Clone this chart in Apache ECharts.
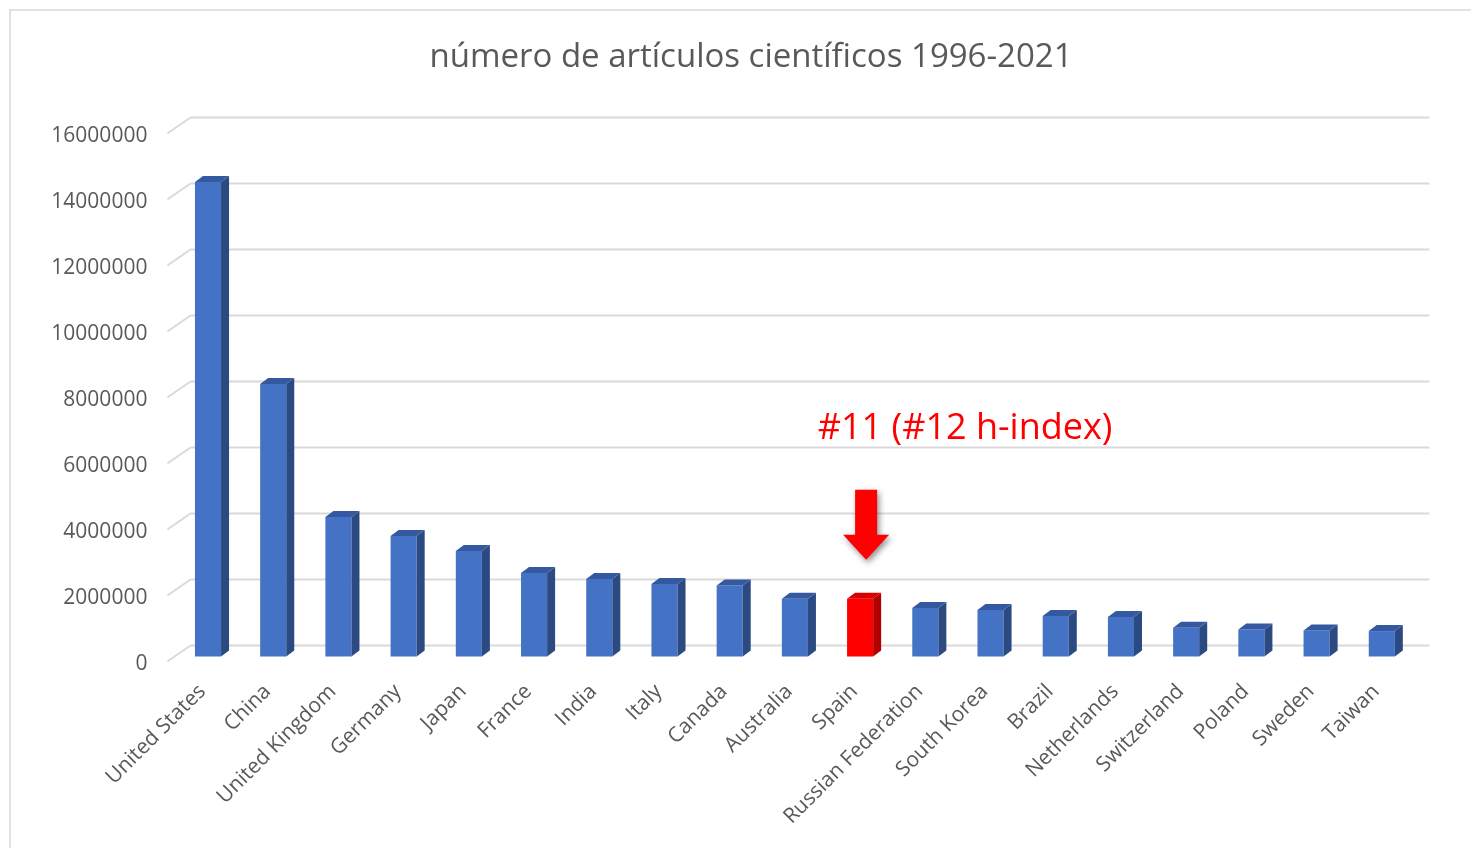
<!DOCTYPE html>
<html>
<head>
<meta charset="utf-8">
<script src="https://cdn.jsdelivr.net/npm/echarts@6/dist/echarts.min.js"></script>
<style>html,body{margin:0;padding:0;background:#fff;}#c{width:1471px;height:848px;}</style>
</head>
<body>
<div id="c"></div>
<script>
const titleText = 'número de artículos científicos 1996-2021';
const categories = ['United States','China','United Kingdom','Germany','Japan','France','India','Italy','Canada','Australia','Spain','Russian Federation','South Korea','Brazil','Netherlands','Switzerland','Poland','Sweden','Taiwan'];
const values = [14380000, 8260000, 4230000, 3650000, 3200000, 2530000, 2350000, 2200000, 2150000, 1750000, 1750000, 1470000, 1410000, 1230000, 1200000, 870000, 820000, 790000, 770000];
const highlightIndex = 10;
const annotationText = '#11 (#12 h-index)';
const yTicks = [0, 2000000, 4000000, 6000000, 8000000, 10000000, 12000000, 14000000, 16000000];
const yTickLabels = ['0', '2000000', '4000000', '6000000', '8000000', '10000000', '12000000', '14000000', '16000000'];

const chart = echarts.init(document.getElementById('c'));
const FONT = '"Open Sans", sans-serif';

function renderGrid(params, api) {
  const cs = params.coordSys;
  const p = api.coord([0, api.value(0)]);
  const y = p[1];
  const x0 = cs.x;
  const x1 = cs.x + cs.width;
  const style = {stroke: '#d9d9d9', lineWidth: 2};
  return {type: 'group', children: [
    {type: 'line', shape: {x1: x0 + 15, y1: y - 11, x2: x1 + 15, y2: y - 11}, style: style},
    {type: 'line', shape: {x1: x0 - 8, y1: y + 5, x2: x0 + 15, y2: y - 11}, style: style},
    {type: 'text', x: x0 - 28, y: y + 8, style: {text: yTickLabels[params.dataIndex], fill: '#595959', font: '21px "Open Sans", sans-serif', align: 'right', verticalAlign: 'middle'}}
  ]};
}

function renderBar(params, api) {
  const idx = api.value(0);
  const top = api.coord([idx, api.value(1)]);
  const base = api.coord([idx, 0]);
  const w = api.size([1, 0])[0] * 0.4;
  const xl = top[0] - w / 2, xr = top[0] + w / 2;
  const yt = top[1], yb = base[1];
  const dx = 8, dy = 6;
  const hl = idx === highlightIndex;
  const cFront = hl ? '#ff0000' : '#4472c4';
  const cSide = hl ? '#b00000' : '#2c4a82';
  const cTop = hl ? '#d80000' : '#3459a0';
  return {type: 'group', children: [
    {type: 'rect', shape: {x: xl, y: yt, width: w, height: yb - yt}, style: {fill: cFront}},
    {type: 'polygon', shape: {points: [[xr, yt], [xr + dx, yt - dy], [xr + dx, yb - dy], [xr, yb]]}, style: {fill: cSide}},
    {type: 'polygon', shape: {points: [[xl, yt], [xl + dx, yt - dy], [xr + dx, yt - dy], [xr, yt]]}, style: {fill: cTop}}
  ]};
}

function renderArrow(params, api) {
  const p = api.coord([api.value(0), api.value(1)]);
  const cx = p[0] + 6;
  const tip = p[1] - 39;
  const pts = [[cx - 11, tip - 70], [cx + 11, tip - 70], [cx + 11, tip - 25], [cx + 23, tip - 25], [cx, tip], [cx - 23, tip - 25], [cx - 11, tip - 25]];
  return {type: 'group', children: [
    {type: 'polygon', shape: {points: pts}, style: {fill: '#ff0000', shadowBlur: 6, shadowColor: 'rgba(0,0,0,0.45)', shadowOffsetX: 2, shadowOffsetY: 3}},
    {type: 'text', x: cx + 99, y: tip - 131, style: {text: annotationText, fill: '#ff0000', font: '36px "Open Sans", sans-serif', align: 'center', verticalAlign: 'middle', shadowBlur: 3, shadowColor: 'rgba(0,0,0,0.35)', shadowOffsetX: 1, shadowOffsetY: 2}}
  ]};
}

chart.setOption({
  animation: false,
  backgroundColor: '#ffffff',
  title: {text: titleText, left: 746, top: 36, textAlign: 'center', textStyle: {fontFamily: FONT, fontSize: 33, fontWeight: 'normal', color: '#595959'}},
  graphic: [{type: 'rect', shape: {x: 10, y: 10, width: 1500, height: 900}, style: {fill: 'none', stroke: '#d9d9d9', lineWidth: 1.5}, silent: true}],
  grid: {left: 175.4, right: 56.6, top: 128.5, bottom: 191.5, containLabel: false},
  xAxis: {
    type: 'category', data: categories,
    axisLine: {show: false}, axisTick: {show: false},
    axisLabel: {rotate: 45, interval: 0, margin: 26, padding: [0, 8, 0, 0], fontFamily: FONT, fontSize: 21, color: '#595959'}
  },
  yAxis: {
    type: 'value', min: 0, max: 16000000, interval: 2000000,
    splitLine: {show: false}, axisLine: {show: false}, axisTick: {show: false},
    axisLabel: {show: false}
  },
  series: [
    {type: 'custom', name: 'grid', renderItem: renderGrid, data: yTicks.map(v => [v]), encode: {y: 0}, silent: true, z: 1},
    {type: 'custom', name: 'artículos', renderItem: renderBar, data: values.map((v, i) => [i, v]), encode: {x: 0, y: 1}, z: 2},
    {type: 'custom', name: 'arrow', renderItem: renderArrow, data: [[highlightIndex, values[highlightIndex]]], encode: {x: 0, y: 1}, silent: true, z: 3}
  ]
});
</script>
</body>
</html>
